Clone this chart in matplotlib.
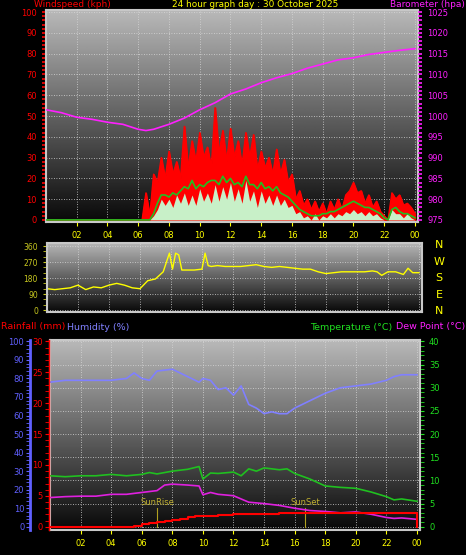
import numpy as np
import matplotlib.pyplot as plt

# --- data ---
hour_labels = ['02', '04', '06', '08', '10', '12', '14', '16', '18', '20', '22', '00']

press_t = [0, 1, 2, 3, 4, 5, 6, 6.5, 7, 8, 9, 10, 11, 12, 13, 14, 15, 16, 17, 18, 19, 20, 21, 22, 23, 24]
press = [1001.5, 1000.8, 999.7, 999.2, 998.5, 998, 996.8, 996.5, 996.8, 998, 999.5, 1001.5, 1003.2,
         1005.3, 1006.5, 1008, 1009.2, 1010.2, 1011.5, 1012.5, 1013.5, 1014, 1014.8, 1015.3, 1015.8, 1016.2]

wind_t = np.arange(0, 24.01, 0.25)
gust = [0] * 26 + [13, 2,
        22, 18, 30, 20, 33, 22, 28, 20, 45, 25, 38, 28, 42, 30, 35, 25, 54, 32, 43, 28,
        44, 30, 38, 26, 42, 30, 41, 24, 33, 25, 30, 22, 34, 22, 29, 18, 22, 10, 14, 7,
        10, 5, 9, 4, 8, 3, 9, 5, 10, 5, 12, 14, 18, 13, 14, 8, 12, 6, 9, 4,
        2, 0, 13, 10, 12, 7, 8, 6, 3]
wind_avg = [0] * 26 + [0, 0,
            3, 8, 12, 12, 11, 13, 12, 14, 16, 15, 19, 15, 17, 16, 18, 19, 19, 17, 21, 18,
            20, 17, 18, 16, 21, 17, 17, 15, 18, 15, 16, 14, 16, 13, 12, 11, 9, 7, 5, 4,
            3, 2, 2, 2, 3, 3, 4, 4, 5, 6, 7, 8, 9, 8, 7, 6, 6, 5, 4, 3,
            1, 0, 5, 6, 4, 3, 3, 2, 1]
wind_spd = [0] * 26 + [0, 0,
            2, 5, 10, 7, 10, 6, 12, 8, 13, 7, 12, 7, 15, 9, 13, 8, 17, 9, 16, 10,
            18, 9, 15, 8, 19, 9, 14, 6, 14, 8, 12, 7, 12, 7, 10, 6, 7, 3, 4, 1,
            2, 0, 3, 0, 2, 1, 3, 1, 3, 2, 4, 3, 5, 3, 4, 2, 4, 2, 3, 1,
            0, 0, 5, 3, 3, 1, 3, 1, 0]

dir_t = [0, 0.5, 1, 1.5, 2, 2.5, 3, 3.5, 4, 4.5, 5, 5.5, 6, 6.5, 7, 7.5, 7.9, 8.1, 8.3, 8.5, 8.7,
         9, 9.5, 10, 10.2, 10.4, 10.6, 11, 11.5, 12, 12.5, 13, 13.5, 14, 14.5, 15, 15.5, 16, 16.5,
         17, 17.5, 18, 18.5, 19, 19.5, 20, 20.5, 21, 21.3, 21.6, 22, 22.5, 23, 23.3, 23.6, 24]
wind_dir = [120, 115, 120, 125, 140, 115, 130, 125, 140, 150, 140, 125, 120, 165, 175, 215, 320, 230,
            320, 310, 225, 225, 225, 230, 320, 250, 245, 250, 245, 245, 245, 250, 255, 245, 240, 245,
            240, 235, 230, 230, 215, 205, 210, 215, 215, 215, 215, 220, 215, 195, 215, 215, 200, 235,
            210, 210]

hum_t = [0, 1, 2, 3, 4, 5, 5.5, 6, 6.5, 7, 8, 9, 9.75, 10, 10.5, 11, 11.5, 12, 12.5, 13, 13.5,
         14, 14.5, 15, 15.5, 16, 17, 18, 19, 20, 21, 22, 22.5, 23, 24]
humidity = [78, 79, 79, 79, 79, 80, 83, 80, 79, 84, 85, 81, 78, 80, 79, 74, 75, 71, 76, 66, 64,
            61, 62, 61, 61, 64, 68, 72, 75, 76, 77, 79, 81, 82, 82]

temp_t = [0, 1, 2, 3, 4, 5, 6, 6.5, 7, 8, 9, 9.75, 10, 10.5, 11, 12, 12.5, 13, 13.5, 14, 15, 15.5,
          16, 17, 18, 19, 20, 21, 22, 22.5, 23, 24]
temperature = [11, 10.8, 11, 11, 11.3, 11, 11.3, 11.7, 11.4, 12, 12.4, 13, 10.3, 11.6, 11.5, 11.8,
               11, 12.5, 12, 12.7, 12.3, 12.5, 11.5, 10.3, 8.8, 8.5, 8.3, 7.5, 6.5, 5.8, 6, 5.5]

dew_t = [0, 1, 2, 3, 4, 5, 6, 7, 7.5, 8, 9, 9.75, 10, 10.5, 11, 12, 13, 14, 15, 16, 17, 18, 19,
         20, 21, 22, 22.5, 23, 24]
dew_point = [6.3, 6.5, 6.6, 6.6, 7, 7, 7.4, 7.8, 9, 9.2, 9, 8.8, 6.9, 7.4, 7, 6.7, 5.3, 5, 4.6, 4,
             3.5, 3.3, 3, 3.2, 2.7, 2, 1.8, 1.9, 1.6]

rain_t = [0, 5, 5.5, 6, 6.5, 7, 7.5, 8, 8.5, 9, 9.5, 10, 11, 12, 14, 15, 23.95, 24]
rainfall = [0, 0, 0.2, 0.4, 0.6, 0.7, 0.9, 1.1, 1.3, 1.5, 1.7, 1.8, 1.9, 2.0, 2.1, 2.2, 2.2, 0]

sunrise, sunset = 7.0, 16.7

W, H = 466, 555
fig = plt.figure(figsize=(W / 100, H / 100), dpi=100, facecolor='black')
plt.rcParams['font.family'] = ['DejaVu Sans']
FS = 6
TF = 6.8
grad = np.linspace(0, 1, 256).reshape(-1, 1)


def panel(rect, ylim):
    ax = fig.add_axes(rect)
    ax.set_facecolor('black')
    ax.imshow(grad, cmap='gray', vmin=-0.05, vmax=1.4, aspect='auto', origin='lower',
              extent=[0, 24.2, ylim[0], ylim[1]], zorder=0)
    ax.set_xlim(0, 24.2)
    ax.set_ylim(*ylim)
    ax.set_xticks(range(2, 25, 2))
    ax.grid(True, color='#d8d8d8', ls=(0, (1, 2)), lw=0.6)
    for s in ax.spines.values():
        s.set_color('#c8c8c8')
        s.set_linewidth(1.5)
    return ax


def fx(px):
    return px / W


def fy(top, bot):
    return 1 - bot / H, (bot - top) / H


# --- top: wind + pressure ---
b, h = fy(10, 222)
ax1 = panel([fx(46), b, fx(372), h], (-1, 101))
ax1.fill_between(wind_t, gust, color='red', lw=1, zorder=2)
ax1.plot(wind_t, gust, color='red', lw=1, zorder=2)
ax1.fill_between(wind_t, wind_spd, color='#c8f0c8', lw=0, zorder=3)
ax1.plot(wind_t, wind_avg, color='#20c020', lw=1.2, zorder=4)
axp = ax1.twinx()
ax1.yaxis.tick_left()
ax1.set_yticks(range(0, 101, 10))
ax1.set_yticks(range(0, 101, 2), minor=True)
ax1.tick_params(axis='y', colors='red', labelsize=FS, length=3, width=1.2, which='both')
ax1.tick_params(axis='x', colors='yellow', labelsize=FS, length=3)
ax1.set_xticklabels(hour_labels)
axp.set_ylim(974.5, 1025.5)
axp.plot(press_t, press, color='#ff20ff', lw=1.2)
axp.set_yticks(range(975, 1026, 5))
axp.set_yticks(range(975, 1026, 1), minor=True)
axp.tick_params(axis='y', colors='#ff20ff', labelsize=FS, length=3, width=1.2, which='both')
for s in axp.spines.values():
    s.set_visible(False)

ty = 1 - 4.5 / H
fig.text(fx(34), ty, 'Windspeed (kph)', color='red', fontsize=6.5, va='center')
fig.text(fx(172), ty, '24 hour graph day : 30 October 2025', color='yellow', fontsize=6.4,
         va='center', ha='left')
fig.text(fx(465), ty, 'Barometer (hpa)', color='#ff20ff', fontsize=6.5, va='center', ha='right')

# --- middle: wind direction ---
b, h = fy(243, 312)
ax2 = panel([fx(47), b, fx(375), h], (-11, 377))
ax2.plot(dir_t, wind_dir, color='yellow', lw=1)
ax2.set_yticks([0, 90, 180, 270, 360])
ax2.set_yticks(range(0, 361, 30), minor=True)
ax2.tick_params(axis='y', colors='#c8c820', labelsize=FS - 0.5, length=3, which='both')
ax2.tick_params(axis='x', length=0, labelbottom=False)
for i, c in enumerate(['N', 'W', 'S', 'E', 'N']):
    fig.text(fx(439), 1 - (245 + i * 16.5) / H, c, color='yellow', fontsize=8, ha='center', va='center')

# --- bottom: temp, dew point, humidity, rain ---
fig.text(0.002, 1 - 327 / H, 'Rainfall (mm)', color='red', fontsize=TF, va='center')
fig.text(fx(67), 1 - 327 / H, 'Humidity (%)', color='#8080ff', fontsize=TF, va='center')
fig.text(fx(392), 1 - 327 / H, 'Temperature (°C)', color='#20e020', fontsize=TF, va='center', ha='right')
fig.text(fx(465), 1 - 327 / H, 'Dew Point (°C)', color='#ff20ff', fontsize=TF, va='center', ha='right')

b, h = fy(340, 530)
ax3 = panel([fx(50), b, fx(370), h], (-0.7, 40.3))
ax3.plot(temp_t, temperature, color='#20c020', lw=1.2, zorder=3)
ax3.plot(dew_t, dew_point, color='#e020e0', lw=1.2, zorder=3)
for t, lab in [(sunrise, 'SunRise'), (sunset, 'SunSet')]:
    ax3.plot([t, t], [0, 4], color='#b0a020', lw=0.8, zorder=2)
    ax3.text(t, 4.2, lab, color='#c0b030', fontsize=FS, ha='center', va='bottom', zorder=4)

axh = ax3.twinx()
axr = ax3.twinx()
ax3.yaxis.tick_right()
ax3.set_yticks(range(0, 41, 5))
ax3.set_yticks(range(0, 41, 1), minor=True)
ax3.tick_params(axis='y', colors='#20e020', labelsize=FS, length=3, which='both')
ax3.tick_params(axis='x', colors='yellow', labelsize=FS, length=3)
ax3.set_xticklabels(hour_labels)

axh.set_ylim(-0.7 * 2.5, 40.3 * 2.5)
axh.plot(hum_t, humidity, color='#8080ff', lw=1.2)
axh.yaxis.tick_left()
axh.spines['left'].set_position(('outward', 14.5))
axh.spines['left'].set_color('#6060ff')
axh.spines['left'].set_linewidth(2)
for k in ['right', 'top', 'bottom']:
    axh.spines[k].set_visible(False)
axh.set_yticks(range(0, 101, 10))
axh.set_yticks(range(0, 101, 2), minor=True)
axh.tick_params(axis='y', colors='#6060ff', labelsize=FS, length=3, which='both', pad=1)

axr.set_ylim(-0.7 * 0.75, 40.3 * 0.75)
axr.plot(rain_t, rainfall, color='red', lw=1.5, drawstyle='steps-post')
axr.yaxis.tick_left()
axr.spines['left'].set_position(('outward', 1))
axr.spines['left'].set_color('red')
axr.spines['left'].set_linewidth(1)
for k in ['right', 'top', 'bottom']:
    axr.spines[k].set_visible(False)
axr.set_yticks(range(0, 31, 5))
axr.set_yticks(range(0, 31, 1), minor=True)
axr.tick_params(axis='y', colors='red', labelsize=FS, length=3, which='both', pad=1)

fig.savefig('out.png', dpi=100, facecolor='black')
